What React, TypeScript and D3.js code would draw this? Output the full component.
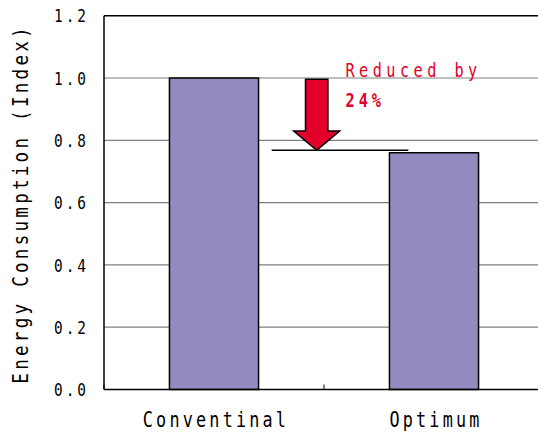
import React from "react";
import * as d3 from "d3";

const categories = ["Conventinal", "Optimum"];
const values = [1.0, 0.76];
const yTicks = [0, 0.2, 0.4, 0.6, 0.8, 1.0, 1.2];
const referenceValue = 0.768;
const arrowTopValue = 0.996;
const annotationLines = ["Reduced by", "24%"];
const yTitle = "Energy Consumption (Index)";

const W = 538;
const H = 434;
const M = { left: 104, top: 15.7, right: 544, bottom: 389.5 };
const S = 0.8; // horizontal glyph compression

export default function App() {
  const x = d3
    .scaleBand<string>()
    .domain(categories)
    .range([M.left, M.right])
    .paddingInner(0.595)
    .paddingOuter(0.2975);
  const y = d3.scaleLinear().domain([0, 1.2]).range([M.bottom, M.top]);
  const fmt = d3.format(".1f");
  const mono = "'DejaVu Sans Mono', 'Liberation Mono', monospace";
  const red = "#E2002A";

  const midX = (M.left + M.right) / 2;
  const arrowCx = midX - 7.3;
  const shaftHalf = 11.2;
  const headHalf = 23;
  const tipY = y(referenceValue);
  const headY = y(0.83);
  const topY = y(arrowTopValue);
  const arrowPath = d3.path();
  arrowPath.moveTo(arrowCx - shaftHalf, topY);
  arrowPath.lineTo(arrowCx + shaftHalf, topY);
  arrowPath.lineTo(arrowCx + shaftHalf, headY);
  arrowPath.lineTo(arrowCx + headHalf, headY);
  arrowPath.lineTo(arrowCx, tipY);
  arrowPath.lineTo(arrowCx - headHalf, headY);
  arrowPath.lineTo(arrowCx - shaftHalf, headY);
  arrowPath.closePath();

  const tickSp = 3.8;
  const xSp = 4.0;
  const titleSp = 4.05;
  const annSp = 5.6;

  return (
    <svg
      width={W}
      height={H}
      style={{ position: "absolute", left: 0, top: 0, background: "#fff" }}
    >
      {yTicks
        .filter((t) => t > 0 && t < 1.2)
        .map((t) => (
          <line
            key={t}
            x1={M.left}
            x2={M.right}
            y1={y(t)}
            y2={y(t)}
            stroke="#7f7f7f"
            strokeWidth={1.2}
          />
        ))}
      <line x1={M.left} x2={M.right} y1={M.top} y2={M.top} stroke="#000" strokeWidth={1.5} />
      <line x1={M.left} x2={M.left} y1={M.top} y2={M.bottom} stroke="#000" strokeWidth={1.5} />
      {categories.map((c, i) => (
        <rect
          key={c}
          x={x(c)}
          y={y(values[i])}
          width={x.bandwidth()}
          height={y(0) - y(values[i])}
          fill="#958ABF"
          stroke="#000"
          strokeWidth={1.5}
        />
      ))}
      <line x1={M.left} x2={M.right} y1={M.bottom} y2={M.bottom} stroke="#000" strokeWidth={1.5} />
      {[M.left, midX, M.right].map((tx, i) => (
        <line key={i} x1={tx} x2={tx} y1={M.bottom} y2={M.bottom - 5} stroke="#000" strokeWidth={1} />
      ))}
      {yTicks.map((t) => (
        <text
          key={t}
          transform={`translate(${86 + tickSp * S},${y(t) + 6.6}) scale(${S},1)`}
          textAnchor="end"
          fontFamily={mono}
          fontSize={18}
          letterSpacing={tickSp}
          fill="#000"
        >
          {fmt(t)}
        </text>
      ))}
      {categories.map((c) => (
        <text
          key={c}
          transform={`translate(${(x(c) as number) + x.bandwidth() / 2 + 0.4 + (xSp * S) / 2},427) scale(${S},1)`}
          textAnchor="middle"
          fontFamily={mono}
          fontSize={21}
          letterSpacing={xSp}
          fill="#000"
        >
          {c}
        </text>
      ))}
      <text
        transform={`translate(28.3,${205.5 - (titleSp * S) / 2}) rotate(-90) scale(${S},1)`}
        textAnchor="middle"
        fontFamily={mono}
        fontSize={22}
        letterSpacing={titleSp}
        fill="#000"
      >
        {yTitle}
      </text>
      <line
        x1={271.7}
        x2={408.3}
        y1={y(referenceValue)}
        y2={y(referenceValue)}
        stroke="#000"
        strokeWidth={1.5}
      />
      <path d={arrowPath.toString()} fill={red} stroke="#000" strokeWidth={1.5} strokeLinejoin="miter" />
      <text
        transform={`translate(345.5,76.7) scale(${S},1)`}
        fontFamily={mono}
        fontSize={19}
        letterSpacing={annSp}
        fill={red}
      >
        {annotationLines[0]}
      </text>
      <text
        transform={`translate(345.5,107) scale(${S},1)`}
        fontFamily={mono}
        fontSize={19}
        fontWeight="bold"
        letterSpacing={5}
        fill={red}
      >
        {annotationLines[1]}
      </text>
    </svg>
  );
}
